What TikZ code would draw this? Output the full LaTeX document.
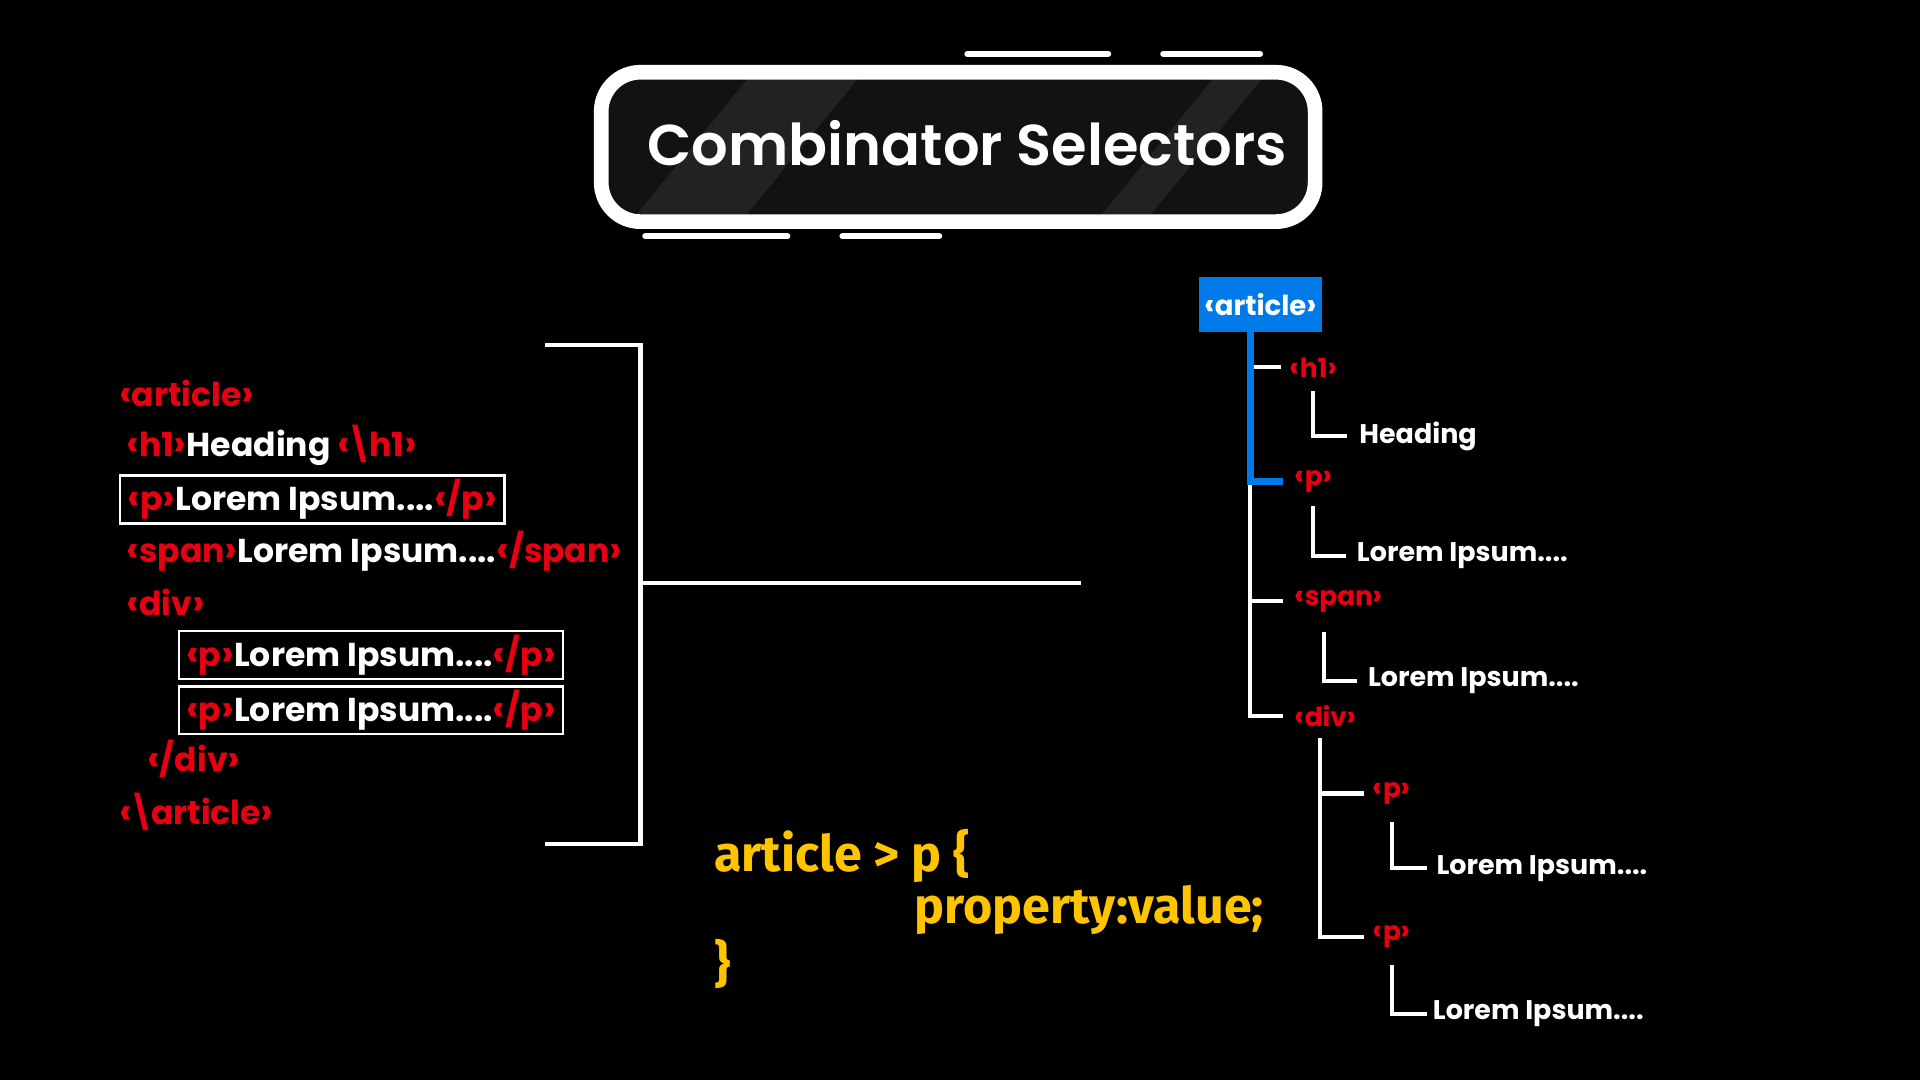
\documentclass[tikz,border=0pt]{standalone}
\usepackage{fontspec}
\setmainfont{Poppins}
\newfontfamily\titlefont{Poppins SemiBold}
\newfontfamily\codefont{Fira Sans}
\usetikzlibrary{positioning}

\definecolor{tagred}{RGB}{232,0,18}
\definecolor{selblue}{RGB}{0,122,232}
\definecolor{codeyellow}{RGB}{255,196,0}
\definecolor{boxgray}{RGB}{18,18,18}
\definecolor{stripegray}{RGB}{34,34,34}

\newcommand{\lb}{\scalebox{1.15}{‹}}
\newcommand{\rb}{\scalebox{1.15}{›}}
\newcommand{\tg}[1]{\textcolor{tagred}{\lb#1\rb}}
\newcommand{\bsl}{\kern-3pt\textbackslash\kern-3pt}

\tikzset{
  line/.style={white,line width=3.5},
  bar/.style={white,line width=5,line cap=round},
  src/.style={anchor=west,inner sep=0pt,text=white,font=\bfseries\fontsize{27}{30}\selectfont},
  srcbox/.style={src,draw=white,line width=2,inner xsep=6,minimum height=39},
  tree/.style={anchor=west,inner sep=0pt,text=white,font=\bfseries\fontsize{22}{25}\selectfont},
  tag/.style={tree,text=tagred,font=\bfseries\fontsize{21.5}{23}\selectfont},
  css/.style={anchor=west,inner sep=0pt,text=codeyellow,font=\codefont\bfseries\fontsize{41}{44}\selectfont}
}

\begin{document}
\begin{tikzpicture}[x=1pt,y=-1pt]

% Background
\fill[black] (0,0) rectangle (1568,882);
\useasboundingbox (0,0) rectangle (1568,882);

% Title
\draw[bar] (790,44) -- (905,44);
\draw[bar] (950,44) -- (1029,44);
\draw[bar] (527,193) -- (643,193);
\draw[bar] (688,193) -- (767,193);
\fill[boxgray,rounded corners=26] (497,65) rectangle (1068,175);
\begin{scope}
\clip[rounded corners=26] (497,65) rectangle (1068,175);
\fill[stripegray] (520,175) -- (610,65) -- (700,65) -- (610,175) -- cycle;
\fill[stripegray] (900,175) -- (990,65) -- (1030,65) -- (940,175) -- cycle;
\end{scope}
\draw[white,line width=12,rounded corners=32] (491,59) rectangle (1074,181);
\node[inner sep=0pt,text=white,font=\titlefont\fontsize{47}{50}\selectfont] (title) at (790,117) {Combinator Selectors};

% Source code
\node[src] (l1) at (97,321) {\tg{article}};
\node[src] (l2) at (103,364) {\tg{h1}Heading \tg{\bsl h1}};
\node[srcbox] (l3) at (97,408) {\tg{p}Lorem Ipsum....\tg{/p}};
\node[src] (l4) at (103,450) {\tg{span}Lorem Ipsum....\tg{/span}};
\node[src] (l5) at (103,492) {\tg{div}};
\node[srcbox] (l6) at (145,535) {\tg{p}Lorem Ipsum....\tg{/p}};
\node[srcbox] (l7) at (145,580) {\tg{p}Lorem Ipsum....\tg{/p}};
\node[src] (l8) at (120,620) {\tg{/div}};
\node[src] (l9) at (97,663) {\tg{\bsl article}};

% Bracket
\coordinate (brtop) at (445,282);
\coordinate (brbot) at (445,689);
\coordinate (brmid) at (523,476);
\coordinate (brend) at (883,476);
\draw[line] (brtop) -| (brmid) |- (brbot);
\draw[line] (brmid) -- (brend);

% CSS rule
\node[css] (sel) at (583,699) {article > p \{};
\node[css] (prop) at (747,743) {property:value;};
\node[css] (close) at (583,787) {\}};

% Tree
\node[fill=selblue,text=white,inner sep=0pt,minimum width=101,minimum height=45,
  font=\bfseries\fontsize{22.5}{25}\selectfont] (root) at (1029.5,248.5) {\lb article\rb};
\coordinate (spine) at (1021,271);

\node[tag] (h1) at (1053,300) {\lb h1\rb};
\node[tree] (heading) at (1110,356) {Heading};
\node[tag] (p1) at (1057,393) {\lb p\rb};
\node[tree] (lorem1) at (1108,454) {Lorem Ipsum....};
\node[tag] (span) at (1057,491) {\lb span\rb};
\node[tree] (lorem2) at (1117,556) {Lorem Ipsum....};
\node[tag] (div) at (1057,585) {\lb div\rb};
\node[tag] (p2) at (1121,648) {\lb p\rb};
\node[tree] (lorem3) at (1173,709) {Lorem Ipsum....};
\node[tag] (p3) at (1121,765) {\lb p\rb};
\node[tree] (lorem4) at (1170,828) {Lorem Ipsum....};

% Leaf connectors
\coordinate (c1) at (1072,319);
\coordinate (c2) at (1072,413);
\coordinate (c3) at (1081,516);
\coordinate (c4) at (1078,603);
\coordinate (c5) at (1137,671);
\coordinate (c6) at (1137,788);

\draw[line] (c1) |- ([xshift=-10]heading.west);
\draw[line] (c2) |- ([xshift=-9]lorem1.west);
\draw[line] (c3) |- ([xshift=-9]lorem2.west);
\draw[line] (c5) |- ([xshift=-8]lorem3.west);
\draw[line] (c6) |- ([xshift=-5]lorem4.west);

% Branches
\draw[line] (h1.west -| spine) -- ([xshift=-7]h1.west);
\draw[line] (p1.west -| spine) |- ([xshift=-9]div.west);
\draw[line] (span.west -| spine) -- ([xshift=-9]span.west);
\draw[line] (c4) |- ([xshift=-7]p3.west);
\draw[line] (p2.west -| c4) -- ([xshift=-7]p2.west);
\draw[selblue,line width=6] (root.south -| spine) |- ([xshift=-9]p1.west);

\end{tikzpicture}
\end{document}
